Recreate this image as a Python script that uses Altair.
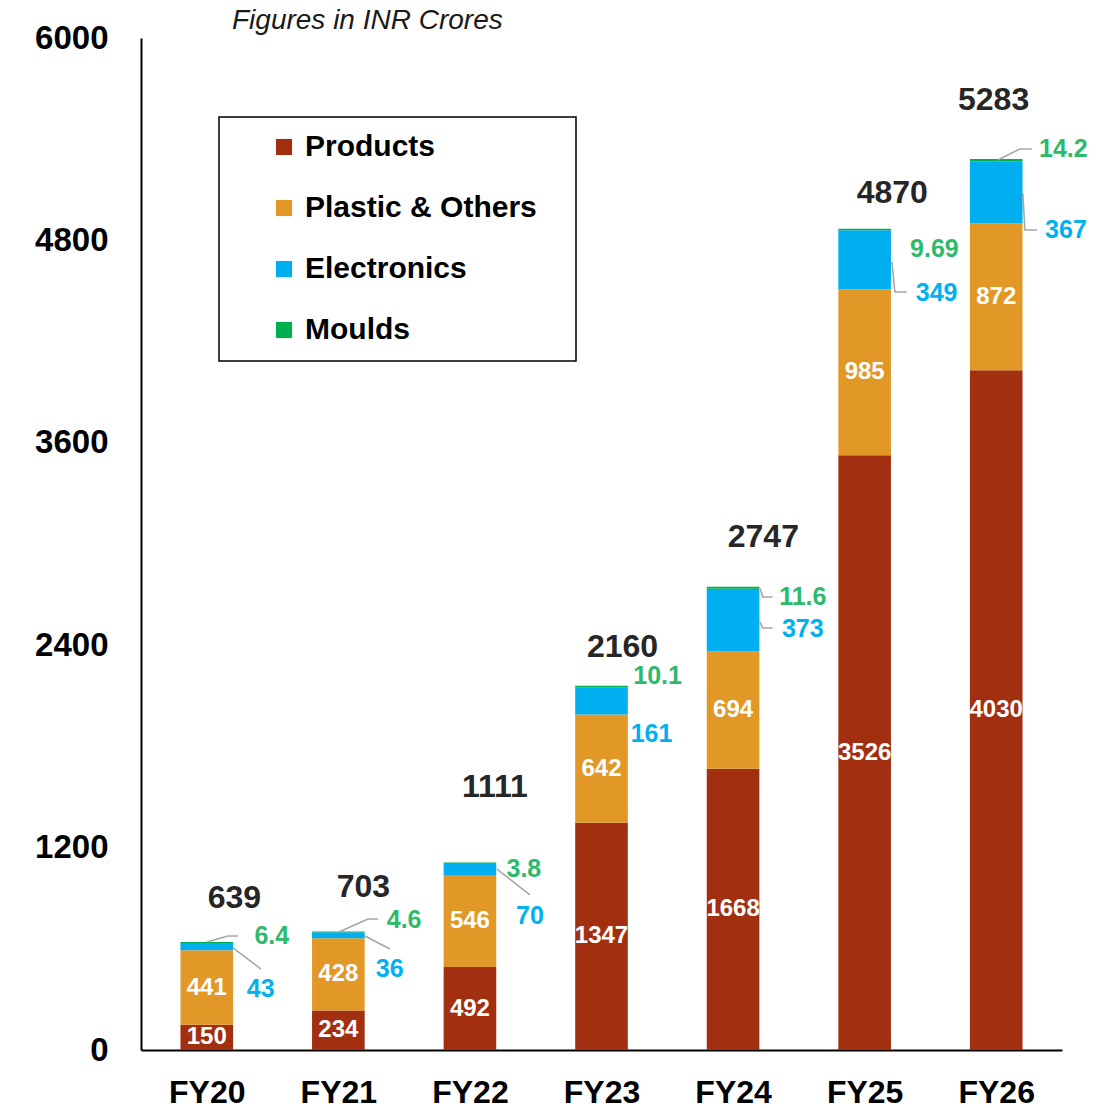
import altair as alt
import pandas as pd

# ---------------- data ----------------
years = ["FY20", "FY21", "FY22", "FY23", "FY24", "FY25", "FY26"]
products = [150, 234, 492, 1347, 1668, 3526, 4030]
plastic = [441, 428, 546, 642, 694, 985, 872]
electronics = [43, 36, 70, 161, 373, 349, 367]
moulds = [6.4, 4.6, 3.8, 10.1, 11.6, 9.69, 14.2]
moulds_text = ["6.4", "4.6", "3.8", "10.1", "11.6", "9.69", "14.2"]
totals = [639, 703, 1111, 2160, 2747, 4870, 5283]
series_names = ["Products", "Plastic & Others", "Electronics", "Moulds"]
series_colors = ["#A32F11", "#E19827", "#00AFEF", "#00AF50"]
y_ticks = [0, 1200, 2400, 3600, 4800, 6000]

# ------------- annotation layout (axis units) -------------
total_label_dx = [0.21, 0.19, 0.19, 0.16, 0.23, 0.21, -0.02]
total_label_y = [901, 966, 1559, 2389, 3041, 5081, 5632]
elec_label_x = [0.41, 1.39, 2.456, 3.38, 4.53, 5.547, 6.53]
elec_label_y = [362, 480, 794, 1873, 2496, 4488, 4862]
mould_label_x = [0.494, 1.50, 2.41, 3.426, 4.53, 5.53, 6.51]
mould_label_y = [676, 771, 1073, 2217, 2686, 4749, 5342]
leaders = [
    [(0.199, 605), (0.412, 480)],
    [(0.0, 640), (0.161, 676), (0.237, 676)],
    [(1.202, 676), (1.392, 599)],
    [(1.0045, 700), (1.225, 777), (1.301, 777)],
    [(2.205, 1073), (2.456, 919)],
    [(4.204, 2739), (4.226, 2686), (4.30, 2686)],
    [(4.204, 2538), (4.226, 2502), (4.30, 2502)],
    [(5.207, 4672), (5.230, 4494), (5.321, 4494)],
    [(6.012, 5277), (6.179, 5342), (6.270, 5342)],
    [(6.202, 5081), (6.218, 4862), (6.309, 4862)],
]

FONT = "Liberation Sans"
half_bar = 0.2

# ------------- tables -------------
rows = []
inner = []
for i, y in enumerate(years):
    vals = [products[i], plastic[i], electronics[i], moulds[i]]
    base = 0.0
    for s, v in zip(series_names, vals):
        rows.append({"year": y, "x0": i - half_bar, "x1": i + half_bar,
                     "y0": base, "y1": base + v, "series": s})
        if s in ("Products", "Plastic & Others"):
            inner.append({"x": i, "y": base + v / 2, "t": str(int(v))})
        base += v
bars_df = pd.DataFrame(rows)
inner_df = pd.DataFrame(inner)
tot_df = pd.DataFrame({"x": [i + d for i, d in enumerate(total_label_dx)],
                       "y": total_label_y, "t": [str(t) for t in totals]})
elec_df = pd.DataFrame({"x": elec_label_x, "y": elec_label_y,
                        "t": [str(v) for v in electronics]})
mould_df = pd.DataFrame({"x": mould_label_x, "y": mould_label_y, "t": moulds_text})
lead_rows = []
for j, pts in enumerate(leaders):
    for k, (px, py) in enumerate(pts):
        lead_rows.append({"id": j, "k": k, "x": px, "y": py})
lead_df = pd.DataFrame(lead_rows)

xs = alt.Scale(domain=[-0.5, 6.5], nice=False, zero=False)
ys = alt.Scale(domain=[0, 6000], nice=False)
label_expr = "[" + ",".join("'%s'" % y for y in years) + "][datum.value]"

x_axis = alt.Axis(values=list(range(len(years))), labelExpr=label_expr, ticks=False,
                  grid=False, domainColor="black", domainWidth=2, labelFontSize=32,
                  labelFontWeight="bold", labelColor="black", labelPadding=27,
                  labelFont=FONT)
y_axis = alt.Axis(values=y_ticks, format="d", ticks=False, grid=False, domainColor="black",
                  domainWidth=2, labelFontSize=33, labelFontWeight="bold",
                  labelColor="black", labelPadding=33, labelFont=FONT)

bars = alt.Chart(bars_df).mark_bar().encode(
    x=alt.X("x0:Q", scale=xs, axis=x_axis, title=None),
    x2="x1:Q",
    y=alt.Y("y0:Q", scale=ys, axis=y_axis, title=None),
    y2="y1:Q",
    color=alt.Color("series:N", scale=alt.Scale(domain=series_names, range=series_colors),
                    legend=alt.Legend(orient="none", legendX=128, legendY=94, title=None,
                                      symbolType="square", symbolSize=260,
                                      symbolStrokeWidth=0, labelFontSize=30,
                                      labelFontWeight="bold", labelColor="black",
                                      labelFont=FONT, rowPadding=31, labelOffset=6,
                                      labelLimit=400)),
)


def txt(df, color, size):
    return alt.Chart(df).mark_text(color=color, fontSize=size, fontWeight="bold",
                                   font=FONT, align="center", baseline="middle").encode(
        x=alt.X("x:Q", scale=xs), y=alt.Y("y:Q", scale=ys), text="t:N")


inner_t = txt(inner_df, "white", 24)
tot_t = txt(tot_df, "#262626", 32)
elec_t = txt(elec_df, "#00B0F0", 25)
mould_t = txt(mould_df, "#2DBA6A", 25)

lead = alt.Chart(lead_df).mark_line(color="#A6A6A6", strokeWidth=1.6).encode(
    x=alt.X("x:Q", scale=xs), y=alt.Y("y:Q", scale=ys), detail="id:N", order="k:Q")

one = pd.DataFrame({"a": [0]})
box = alt.Chart(one).mark_rect(fill="transparent", stroke="black", strokeWidth=1.5).encode(
    x=alt.value(78), x2=alt.value(435), y=alt.value(79), y2=alt.value(323))
note = alt.Chart(one).mark_text(text="Figures in INR Crores", fontStyle="italic",
                                fontSize=28, font=FONT, align="left", baseline="middle",
                                color="#1a1a1a").encode(
    x=alt.value(91), y=alt.value(-17))

chart = alt.layer(bars, lead, inner_t, tot_t, elec_t, mould_t, box, note).properties(
    width=921, height=1012,
    autosize=alt.AutoSizeParams(type="none"),
    padding={"left": 141, "top": 38, "right": 52, "bottom": 58},
).configure_view(strokeWidth=0, stroke="transparent")

chart.save("out.html", embed_options={"renderer": "svg", "actions": False})
